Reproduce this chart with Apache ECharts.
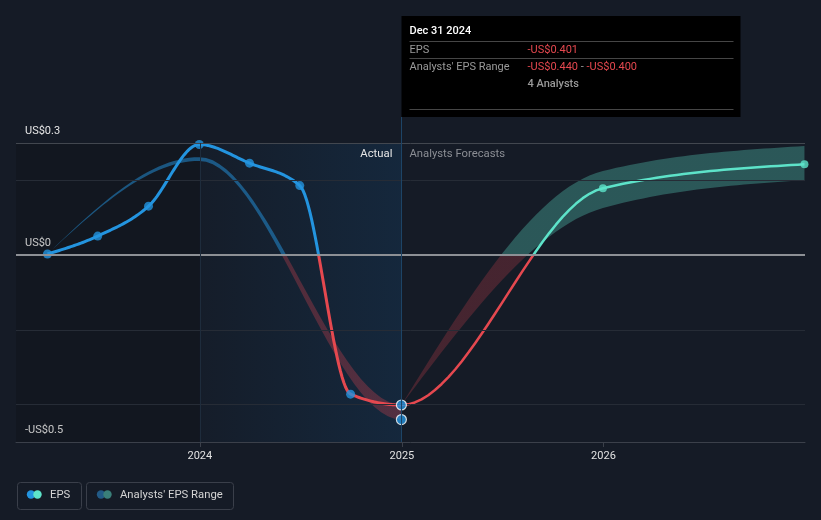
<!DOCTYPE html>
<html>
<head>
<meta charset="utf-8">
<script src="https://cdn.jsdelivr.net/npm/echarts@6/dist/echarts.min.js"></script>
<style>
  html, body { margin: 0; padding: 0; background: #151b26; }
  #chart { width: 821px; height: 520px; }
</style>
</head>
<body>
<div id="chart"></div>
<script>
// reported EPS (quarter ends) and analyst forecasts
var actualDates = ['2023-03-31', '2023-06-30', '2023-09-30', '2023-12-31', '2024-03-31', '2024-06-30', '2024-09-30', '2024-12-31'];
var actualEps = [0.003, 0.051, 0.131, 0.296, 0.246, 0.186, -0.372, -0.401];
var forecastDates = ['2025-12-31', '2026-12-31'];
var forecastEps = [0.179, 0.243];

// analysts' EPS range (low / high)
var rangeDates = ['2023-03-31', '2023-12-31', '2024-12-31', '2025-12-31', '2026-12-31'];
var rangeLow = [0.003, 0.252, -0.440, 0.126, 0.201];
var rangeHigh = [0.003, 0.262, -0.400, 0.225, 0.292];
var analystCount = 4;

var gridValues = [0.3, 0.2, -0.2, -0.4];
var yLabels = { '0.3': 'US$0.3', '0': 'US$0', '-0.5': '-US$0.5' };
var yMin = -0.5, yMax = 0.3;
var xStart = '2023-02-02', xEnd = '2027-01-01';
var tipDate = '2024-12-31';

var BLUE = '#2394df', RED = '#e5484f', TEAL = '#5de3c9';
var FONT = 'Roboto';

function ts(s) {
  var p = s.split('-').map(Number);
  return new Date(p[0], p[1] - 1, p[2]).getTime();
}

var epsDates = actualDates.concat(forecastDates);
var epsValues = actualEps.concat(forecastEps);
var nActual = actualDates.length;
var rangeSplit = rangeDates.indexOf(actualDates[nActual - 1]);

// monotone cubic tangents (pixel space)
function tangents(P) {
  var n = P.length, m = [], sl = [];
  for (var i = 0; i < n - 1; i++) sl.push((P[i + 1][1] - P[i][1]) / (P[i + 1][0] - P[i][0]));
  for (var j = 1; j < n - 1; j++) {
    var h0 = P[j][0] - P[j - 1][0], h1 = P[j + 1][0] - P[j][0];
    var s0 = sl[j - 1], s1 = sl[j];
    var p = (s0 * h1 + s1 * h0) / (h0 + h1);
    m[j] = (Math.sign(s0) + Math.sign(s1)) * Math.min(Math.abs(s0), Math.abs(s1), 0.5 * Math.abs(p)) || 0;
  }
  if (n > 2) {
    m[0] = (3 * sl[0] - m[1]) / 2;
    m[n - 1] = (3 * sl[n - 2] - m[n - 2]) / 2;
  } else {
    m[0] = m[1] = sl[0];
  }
  return m;
}

function sample(P, m, a, b) {
  var out = [[P[a][0], P[a][1]]];
  for (var i = a; i < b; i++) {
    var x0 = P[i][0], y0 = P[i][1], x1 = P[i + 1][0], y1 = P[i + 1][1], dx = (x1 - x0) / 3;
    var c1x = x0 + dx, c1y = y0 + dx * m[i], c2x = x1 - dx, c2y = y1 - dx * m[i + 1];
    for (var k = 1; k <= 30; k++) {
      var t = k / 30, u = 1 - t;
      out.push([
        u * u * u * x0 + 3 * u * u * t * c1x + 3 * u * t * t * c2x + t * t * t * x1,
        u * u * u * y0 + 3 * u * u * t * c1y + 3 * u * t * t * c2y + t * t * t * y1
      ]);
    }
  }
  return out;
}

function signGradient(api, pos, neg) {
  var t0 = ts(xStart);
  var top = api.coord([t0, yMax])[1], bot = api.coord([t0, yMin])[1], zero = api.coord([t0, 0])[1];
  var f = (zero - top) / (bot - top);
  return new echarts.graphic.LinearGradient(0, top, 0, bot, [
    { offset: 0, color: pos }, { offset: f, color: pos },
    { offset: f, color: neg }, { offset: 1, color: neg }
  ], true);
}

function renderBand(params, api) {
  if (params.dataIndex !== 0) return null;
  var up = rangeDates.map(function (d, i) { return api.coord([ts(d), rangeHigh[i]]); });
  var lo = rangeDates.map(function (d, i) { return api.coord([ts(d), rangeLow[i]]); });
  var mu = tangents(up), ml = tangents(lo);
  var past = sample(up, mu, 0, rangeSplit).concat(sample(lo, ml, 0, rangeSplit).reverse());

  // forecast band fans out from the last reported EPS
  var start = api.coord([ts(tipDate), actualEps[nActual - 1]]);
  var fu = [start].concat(up.slice(rangeSplit + 1));
  var fl = [start].concat(lo.slice(rangeSplit + 1));
  var fmu = tangents(fu), fml = tangents(fl);
  var future = sample(fu, fmu, 0, fu.length - 1).concat(sample(fl, fml, 0, fl.length - 1).reverse());

  return {
    type: 'group',
    children: [
      { type: 'polygon', shape: { points: past },
        style: { fill: signGradient(api, 'rgba(35,148,223,0.5)', 'rgba(224,67,79,0.3)') } },
      { type: 'polygon', shape: { points: future },
        style: { fill: signGradient(api, 'rgba(94,227,204,0.3)', 'rgba(224,67,79,0.24)') } }
    ]
  };
}

function renderEps(params, api) {
  if (params.dataIndex !== 0) return null;
  var pts = epsDates.map(function (d, i) { return api.coord([ts(d), epsValues[i]]); });
  var m = tangents(pts);
  return {
    type: 'group',
    children: [
      { type: 'polyline', shape: { points: sample(pts, m, 0, nActual - 1) },
        style: { fill: null, stroke: signGradient(api, BLUE, RED), lineWidth: 3, lineJoin: 'round' } },
      { type: 'polyline', shape: { points: sample(pts, m, nActual - 1, pts.length - 1) },
        style: { fill: null, stroke: signGradient(api, TEAL, RED), lineWidth: 2.5, lineJoin: 'round' } }
    ]
  };
}

var chart = echarts.init(document.getElementById('chart'));

var gridLines = gridValues.map(function (v) {
  return { yAxis: v, lineStyle: { color: v === yMax ? '#42474f' : '#262c36', width: 1, type: 'solid' } };
});
gridLines.push({ yAxis: 0, lineStyle: { color: '#8d9095', width: 2, type: 'solid' } });
gridLines.push({ xAxis: ts('2024-01-01'), lineStyle: { color: '#1e2c3c', width: 1, type: 'solid' } });

var option = {
  backgroundColor: '#151b26',
  animation: false,
  grid: { left: 16, right: 16, top: 143, bottom: 78, outerBoundsMode: 'none' },
  xAxis: {
    type: 'time',
    min: ts(xStart),
    max: ts(xEnd),
    splitNumber: 4,
    minInterval: 365 * 86400000,
    axisLine: { onZero: false, lineStyle: { color: '#3b404a' } },
    axisTick: { show: true, length: 5, lineStyle: { color: '#3b404a' } },
    minorTick: { show: false },
    splitLine: { show: false },
    axisLabel: {
      color: '#e2e2e2', fontSize: 11, fontFamily: FONT, margin: 9,
      showMinLabel: false, showMaxLabel: false,
      formatter: function (v) { return String(new Date(v).getFullYear()); }
    }
  },
  yAxis: {
    type: 'value',
    min: yMin, max: yMax, interval: 0.1,
    axisLine: { show: false },
    axisTick: { show: false },
    splitLine: { show: false },
    axisLabel: {
      inside: true, margin: 9, color: '#e6e6e6', fontSize: 11, fontFamily: FONT,
      verticalAlign: 'bottom', padding: [0, 0, 6, 0],
      formatter: function (v) {
        var k = String(Math.round(v * 10) / 10);
        return yLabels[k] || '';
      }
    }
  },
  series: [
    {
      type: 'line', data: [], silent: true, z: 1,
      markArea: {
        silent: true,
        data: [
          [{ xAxis: ts(xStart), itemStyle: { color: 'rgba(0,0,0,0.14)' } }, { xAxis: ts('2024-01-01') }],
          [{ xAxis: ts('2024-01-01'), itemStyle: { color: new echarts.graphic.LinearGradient(0, 0, 1, 0, [
            { offset: 0, color: 'rgba(20,90,150,0.03)' }, { offset: 1, color: 'rgba(20,90,150,0.2)' }]) } },
           { xAxis: ts(tipDate) }]
        ]
      },
      markLine: { silent: true, symbol: 'none', label: { show: false }, data: gridLines }
    },
    {
      name: "Analysts' EPS Range", type: 'custom', z: 2,
      data: rangeDates.map(function (d, i) { return [ts(d), rangeLow[i], rangeHigh[i]]; }),
      encode: { x: 0, y: [1, 2] },
      renderItem: renderBand
    },
    {
      name: 'EPS', type: 'custom', z: 3,
      data: epsDates.map(function (d, i) { return [ts(d), epsValues[i]]; }),
      encode: { x: 0, y: 1 },
      renderItem: renderEps
    },
    {
      type: 'scatter', z: 4, symbolSize: 9, silent: true,
      itemStyle: { color: BLUE },
      data: actualDates.slice(0, nActual - 1).map(function (d, i) { return [ts(d), actualEps[i]]; })
    },
    {
      type: 'scatter', z: 5, symbolSize: 10, silent: true,
      itemStyle: { color: BLUE, borderColor: '#ffffff', borderWidth: 1.2 },
      data: [
        [ts(tipDate), actualEps[nActual - 1]],
        [ts(tipDate), rangeLow[rangeSplit]]
      ]
    },
    {
      type: 'scatter', z: 4, symbolSize: 8, silent: true,
      itemStyle: { color: TEAL },
      data: forecastDates.map(function (d, i) { return [ts(d), forecastEps[i]]; })
    }
  ]
};

chart.setOption(option);

// tooltip panel, region captions and legend placed from axis positions
var tipX = chart.convertToPixel({ gridIndex: 0 }, [ts(tipDate), 0])[0];
var plotTop = chart.convertToPixel({ gridIndex: 0 }, [ts(tipDate), yMax])[1];
var plotBottom = chart.convertToPixel({ gridIndex: 0 }, [ts(tipDate), yMin])[1];

function fmt(v) { return (v < 0 ? '-' : '') + 'US$' + Math.abs(v).toFixed(3); }
function txt(x, y, text, color, extra) {
  var s = { text: text, x: x, y: y, fill: color, fontSize: 11, fontFamily: FONT, verticalAlign: 'middle', align: 'left' };
  for (var k in extra) s[k] = extra[k];
  return { type: 'text', silent: true, z: 30, style: s };
}
function hline(x1, x2, y, color) {
  return { type: 'line', silent: true, z: 30, shape: { x1: x1, y1: y, x2: x2, y2: y }, style: { stroke: color, lineWidth: 1 } };
}

var boxL = Math.round(tipX) + 0.5, boxTop = 16, boxBottom = 117;
var col1 = boxL + 8, col2 = boxL + 126;

chart.setOption({
  graphic: [
    { type: 'line', silent: true, z: 10,
      shape: { x1: boxL, y1: boxBottom, x2: boxL, y2: plotBottom },
      style: { stroke: '#1d4466', lineWidth: 1 } },
    { type: 'rect', silent: true, z: 20,
      shape: { x: boxL, y: boxTop, width: 339, height: boxBottom - boxTop },
      style: { fill: '#000000' } },
    txt(col1, 31, 'Dec 31 2024', '#ffffff', { fontWeight: 500 }),
    hline(col1, col1 + 324, 41.5, '#464646'),
    txt(col1, 50, 'EPS', '#9a9a9a'),
    txt(col2, 50, fmt(actualEps[nActual - 1]), RED),
    hline(col1, col1 + 324, 58.5, '#464646'),
    txt(col1, 67, "Analysts' EPS Range", '#9a9a9a'),
    { type: 'text', silent: true, z: 30, style: {
      x: col2, y: 67, verticalAlign: 'middle', fontSize: 11, fontFamily: FONT,
      text: '{r|' + fmt(rangeLow[rangeSplit]) + '}{g| - }{r|' + fmt(rangeHigh[rangeSplit]) + '}',
      rich: { r: { fill: RED, fontSize: 11, fontFamily: FONT }, g: { fill: '#9a9a9a', fontSize: 11, fontFamily: FONT } }
    } },
    txt(col2, 84, analystCount + ' Analysts', '#9a9a9a', { fontWeight: 500 }),
    hline(col1, col1 + 324, 109.5, '#464646'),
    txt(tipX - 9, plotTop + 11, 'Actual', '#e6e6e6', { align: 'right', fontSize: 11.3 }),
    txt(tipX + 8, plotTop + 11, 'Analysts Forecasts', '#8b8e94', { fontSize: 11.3 }),
    { type: 'rect', silent: true, shape: { x: 17.5, y: 482.5, width: 64, height: 27, r: 3 },
      style: { fill: 'none', stroke: '#3a3f4a', lineWidth: 1 } },
    { type: 'circle', silent: true, shape: { cx: 31, cy: 494.5, r: 4.2 }, style: { fill: BLUE } },
    { type: 'circle', silent: true, shape: { cx: 37.5, cy: 494.5, r: 4.2 }, style: { fill: TEAL } },
    txt(50, 495, 'EPS', '#d4d4d4', { fontSize: 11.3 }),
    { type: 'rect', silent: true, shape: { x: 86.5, y: 482.5, width: 147, height: 27, r: 3 },
      style: { fill: 'none', stroke: '#3a3f4a', lineWidth: 1 } },
    { type: 'circle', silent: true, shape: { cx: 101, cy: 494.5, r: 4.2 }, style: { fill: '#225a86' } },
    { type: 'circle', silent: true, shape: { cx: 107.5, cy: 494.5, r: 4.2 }, style: { fill: '#3a7f79' } },
    txt(120, 495, "Analysts' EPS Range", '#d4d4d4', { fontSize: 11.3 })
  ]
});
</script>
</body>
</html>
